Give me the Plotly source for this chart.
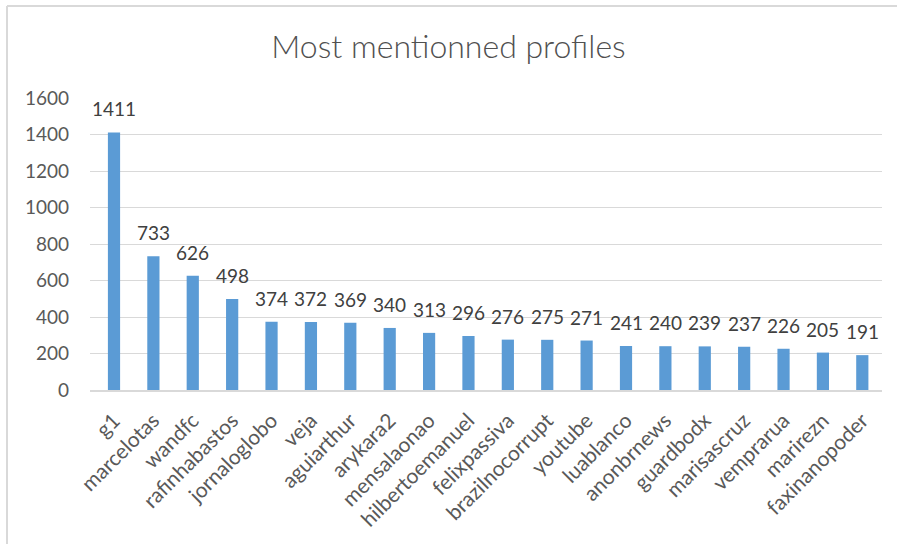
import plotly.graph_objects as go

profiles = ["g1", "marcelotas", "wandfc", "rafinhabastos", "jornaloglobo", "veja",
            "aguiarthur", "arykara2", "mensalaonao", "hilbertoemanuel", "felixpassiva",
            "brazilnocorrupt", "youtube", "luablanco", "anonbrnews", "guardbodx",
            "marisascruz", "vemprarua", "marirezn", "faxinanopoder"]
mentions = [1411, 733, 626, 498, 374, 372, 369, 340, 313, 296, 276, 275, 271,
            241, 240, 239, 237, 226, 205, 191]
y_ticks = [0, 200, 400, 600, 800, 1000, 1200, 1400, 1600]

W, H = 897, 544
ml, mr, mt, mb = 90, 15, 98, 154
pw, ph = W - ml - mr, H - mt - mb

font_family = "Lato, 'Open Sans', sans-serif"
gray = "#595959"


def px(x):
    return (x - ml) / pw


def py(y):
    return (H - mb - y) / ph


fig = go.Figure(go.Bar(
    x=profiles, y=mentions,
    marker=dict(color="#5b9bd5", line=dict(width=0)),
    hoverinfo="x+y",
))

for name, val in zip(profiles, mentions):
    fig.add_annotation(x=name, y=val, text=str(val), showarrow=False,
                       xanchor="center", yanchor="bottom", yshift=10,
                       font=dict(size=19, color="#404040", family=font_family))

border = dict(color="#d9d9d9", width=2)
fig.update_layout(
    width=W, height=H,
    margin=dict(l=ml, r=mr, t=mt, b=mb, autoexpand=False),
    paper_bgcolor="white", plot_bgcolor="white",
    bargap=0.69,
    showlegend=False,
    title=dict(text="Most mentionned profiles", x=0.5, xanchor="center",
               y=1 - 47 / H, yanchor="middle",
               font=dict(size=32, color="#505050", family=font_family, weight=300)),
    xaxis=dict(tickangle=-45, tickfont=dict(size=21, color=gray, family=font_family),
               showgrid=False, showline=True, linecolor="#d9d9d9", linewidth=2,
               ticks="", ticklabelstandoff=8, automargin=False),
    yaxis=dict(range=[0, 1600], tickvals=y_ticks,
               tickfont=dict(size=19, color=gray, family=font_family),
               showgrid=True, gridcolor="#d9d9d9", gridwidth=1,
               zeroline=False, showline=False, ticks="", ticklabelstandoff=20,
               automargin=False),
    shapes=[
        dict(type="line", xref="paper", yref="paper",
             x0=px(7), x1=px(W), y0=py(6), y1=py(6), line=border, layer="below"),
        dict(type="line", xref="paper", yref="paper",
             x0=px(7), x1=px(7), y0=py(6), y1=py(H), line=border, layer="below"),
    ],
)

fig.write_html("out.html", config={"displayModeBar": False},
               post_script="document.body.style.margin='0';document.body.style.padding='0';")
